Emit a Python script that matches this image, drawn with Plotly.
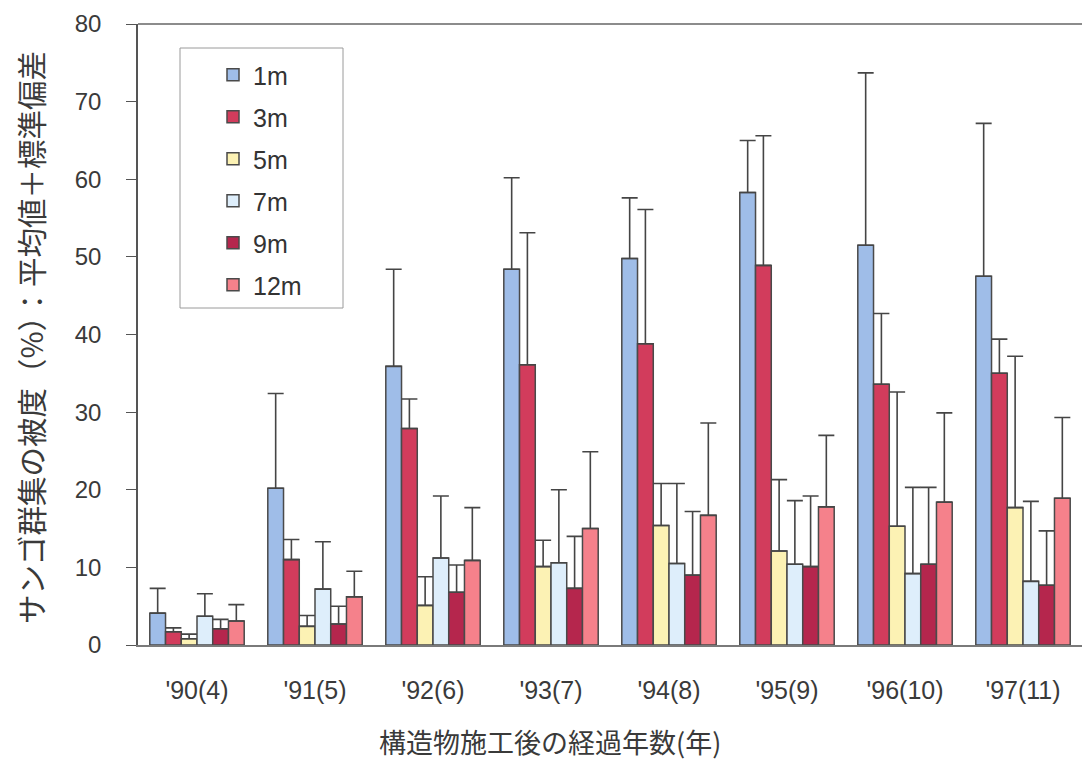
import plotly.graph_objects as go

# Survey years (years elapsed since construction)
years = ["'90(4)", "'91(5)", "'92(6)", "'93(7)", "'94(8)", "'95(9)", "'96(10)", "'97(11)"]

# Mean coral cover (%) by depth
mean_1m = [4.1, 20.2, 35.9, 48.4, 49.8, 58.3, 51.5, 47.5]
mean_3m = [1.7, 11.0, 27.9, 36.1, 38.8, 48.9, 33.6, 35.0]
mean_5m = [0.8, 2.4, 5.1, 10.1, 15.4, 12.1, 15.3, 17.7]
mean_7m = [3.7, 7.2, 11.2, 10.6, 10.5, 10.4, 9.2, 8.2]
mean_9m = [2.1, 2.7, 6.8, 7.3, 9.0, 10.1, 10.4, 7.7]
mean_12m = [3.1, 6.2, 10.9, 15.0, 16.7, 17.8, 18.4, 18.9]

# Mean + standard deviation (%)
upper_1m = [7.3, 32.4, 48.4, 60.2, 57.6, 65.0, 73.7, 67.2]
upper_3m = [2.2, 13.6, 31.7, 53.1, 56.1, 65.6, 42.7, 39.4]
upper_5m = [1.4, 3.8, 8.8, 13.5, 20.8, 21.3, 32.6, 37.2]
upper_7m = [6.6, 13.3, 19.2, 20.0, 20.8, 18.6, 20.3, 18.5]
upper_9m = [3.3, 5.0, 10.3, 14.0, 17.2, 19.2, 20.3, 14.7]
upper_12m = [5.2, 9.5, 17.7, 24.9, 28.6, 27.0, 29.9, 29.3]

depths = ["1m", "3m", "5m", "7m", "9m", "12m"]
means = [mean_1m, mean_3m, mean_5m, mean_7m, mean_9m, mean_12m]
uppers = [upper_1m, upper_3m, upper_5m, upper_7m, upper_9m, upper_12m]
colors = ["#9fbde8", "#d23c5c", "#fcf2b4", "#deeefb", "#b5264d", "#f5818b"]

TEXT = "#3a3a3a"
CJK = "Noto Sans CJK JP"

# plot area in pixels
PLOT_L, PLOT_R, PLOT_T, PLOT_B = 138, 1082, 24, 645
PW, PH = PLOT_R - PLOT_L, PLOT_B - PLOT_T


def px_x(x):
    return (x - PLOT_L) / PW


def px_y(y):
    return 1 - (y - PLOT_T) / PH


fig = go.Figure()
for name, m, u, c in zip(depths, means, uppers, colors):
    fig.add_trace(go.Bar(
        name=name,
        x=years,
        y=m,
        legendgroup=name,
        marker=dict(color=c, line=dict(color="#4a4a4a", width=1.5)),
        error_y=dict(
            type="data",
            symmetric=False,
            array=[round(b - a, 2) for a, b in zip(m, u)],
            arrayminus=[0] * len(m),
            color="#454545",
            thickness=1.6,
            width=8,
        ),
    ))

fig.update_layout(
    width=1083,
    height=760,
    margin=dict(l=PLOT_L, r=1083 - PLOT_R, t=PLOT_T, b=760 - PLOT_B),
    paper_bgcolor="white",
    plot_bgcolor="white",
    barmode="group",
    bargap=0.2,
    bargroupgap=0,
    font=dict(family="Liberation Sans, Arial, sans-serif", size=24, color=TEXT),
    showlegend=True,
    legend=dict(
        x=px_x(213), y=px_y(52), xanchor="left", yanchor="top",
        bgcolor="rgba(0,0,0,0)",
        borderwidth=0,
        font=dict(size=25, color="#333333"),
        tracegroupgap=6.5,
        itemwidth=30,
    ),
    xaxis=dict(
        showline=True, linecolor="#7a7a7a", linewidth=1.5,
        ticks="", ticklabelstandoff=22,
        tickfont=dict(size=25, color=TEXT),
        showgrid=False,
    ),
    yaxis=dict(
        range=[0, 80],
        dtick=10,
        showline=True, linecolor="#555555", linewidth=1.5,
        ticks="outside", ticklen=10, tickcolor="#555555", tickwidth=1,
        ticklabelstandoff=20,
        tickfont=dict(size=24, color=TEXT),
        showgrid=False,
    ),
    shapes=[
        # top frame line
        dict(type="line", xref="paper", yref="paper",
             x0=0, x1=1, y0=1, y1=1,
             line=dict(color="#666666", width=1.5)),
        # legend frame
        dict(type="rect", xref="paper", yref="paper",
             x0=px_x(180), x1=px_x(343), y0=px_y(308), y1=px_y(48),
             fillcolor="white", line=dict(color="#9a9a9a", width=1)),
    ],
    annotations=[
        dict(
            text="構造物施工後の経過年数(年)",
            xref="paper", yref="paper",
            x=px_x(550), y=px_y(741),
            xanchor="center", yanchor="middle",
            showarrow=False,
            font=dict(family=CJK, size=27, color=TEXT),
        ),
        dict(
            text="サンゴ群集の被度（%）：平均値＋標準偏差",
            xref="paper", yref="paper",
            x=px_x(30), y=px_y(338),
            xanchor="center", yanchor="middle",
            textangle=-90,
            showarrow=False,
            font=dict(family=CJK, size=29.5, color=TEXT),
        ),
    ],
)

fig.write_html("out.html")
